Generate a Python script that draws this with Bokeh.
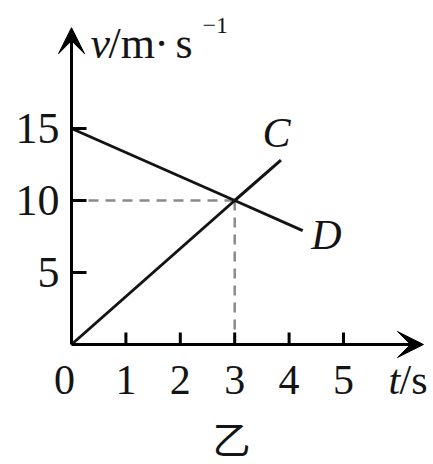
from bokeh.plotting import figure
from bokeh.models import Range1d, Arrow, VeeHead
from bokeh.core.properties import value
from bokeh.embed import file_html
from bokeh.resources import INLINE

# ---- data ----
x_ticks = [1, 2, 3, 4, 5]
x_tick_labels = ["1", "2", "3", "4", "5"]
y_ticks = [5, 10, 15]
y_tick_labels = ["5", "10", "15"]
line_c_t = [0, 3, 3.85]
line_c_v = [0, 10, 12.8]
line_d_t = [0, 3, 4.25]
line_d_v = [15, 10, 7.9]
meet_t = 3
meet_v = 10
x_axis_max = 6.47
y_axis_max = 22.0

# ---- scale (window pixels <-> data) ----
SX, SY = 54.4, 14.4
OX, OY = 71, 344
W, H = 433, 464


def tx(X):
    return (X - OX) / SX


def ty(Y):
    return (OY - Y) / SY


SERIF = value("Liberation Serif")
INK = "#141414"

p = figure(width=W, height=H, x_range=Range1d(tx(0), tx(W)),
           y_range=Range1d(ty(H), ty(0)), output_backend="svg",
           toolbar_location=None, min_border=0, outline_line_color=None,
           x_axis_type=None, y_axis_type=None)
p.grid.visible = False
p.background_fill_color = "white"
p.border_fill_color = "white"

# dashed guides
p.line([0, meet_t], [meet_v, meet_v], line_color="#8a8a8a", line_width=2.5, line_dash="10 7")
p.line([meet_t, meet_t], [meet_v, 0], line_color="#8a8a8a", line_width=2.5, line_dash="10 7")

# data lines
p.line(line_c_t, line_c_v, line_color=INK, line_width=3)
p.line(line_d_t, line_d_v, line_color=INK, line_width=3)

# axes with arrows
p.add_layout(Arrow(end=VeeHead(size=26, fill_color="black", line_color="black"),
                   x_start=0, y_start=0, x_end=x_axis_max, y_end=0,
                   line_width=3, line_color="black"))
p.add_layout(Arrow(end=VeeHead(size=26, fill_color="black", line_color="black"),
                   x_start=0, y_start=0, x_end=0, y_end=y_axis_max,
                   line_width=3, line_color="black"))

# ticks
xt_len = 12 / SY
yt_len = 15 / SX
p.segment(x0=x_ticks, y0=[0] * len(x_ticks), x1=x_ticks, y1=[xt_len] * len(x_ticks),
          line_color="black", line_width=3)
p.segment(x0=[0] * len(y_ticks), y0=y_ticks, x1=[yt_len] * len(y_ticks), y1=y_ticks,
          line_color="black", line_width=3)


def label(x, y, s, size="42px", italic=False, align="center", font=SERIF):
    p.text(x=[x], y=[y], text=[s], text_font=font, text_font_size=size,
           text_font_style="italic" if italic else "normal", text_align=align,
           text_baseline="middle", text_color=INK)


# tick labels
p.text(x=x_ticks, y=[ty(379)] * len(x_ticks), text=x_tick_labels,
       text_font=SERIF, text_font_size="42px", text_align="center",
       text_baseline="middle", text_color=INK)
label(tx(64), ty(379), "0")
p.text(x=[tx(59)] * len(y_ticks), y=y_ticks, text=y_tick_labels,
       text_font=SERIF, text_font_size="44px", text_align="right",
       text_baseline="middle", text_color=INK)

# axis titles
label(tx(388), ty(379), "t", italic=True, align="left")
label(tx(399), ty(379), "/s", align="left")

label(tx(90), ty(43), "v", size="44px", italic=True, align="left")
label(tx(108), ty(43), "/m", size="44px", align="left")
label(tx(161), ty(43), "·", size="44px", align="center")
label(tx(175), ty(43), "s", size="44px", align="left")
label(tx(202), ty(25), "−1", size="24px", align="left")

# line labels
label(tx(276), ty(132), "C", italic=True)
label(tx(326), ty(234), "D", italic=True)

# caption
label(tx(231), ty(437), "乙", size="38px", font=value("Noto Sans CJK SC"))

open("out.html", "w").write(file_html(p, INLINE))
